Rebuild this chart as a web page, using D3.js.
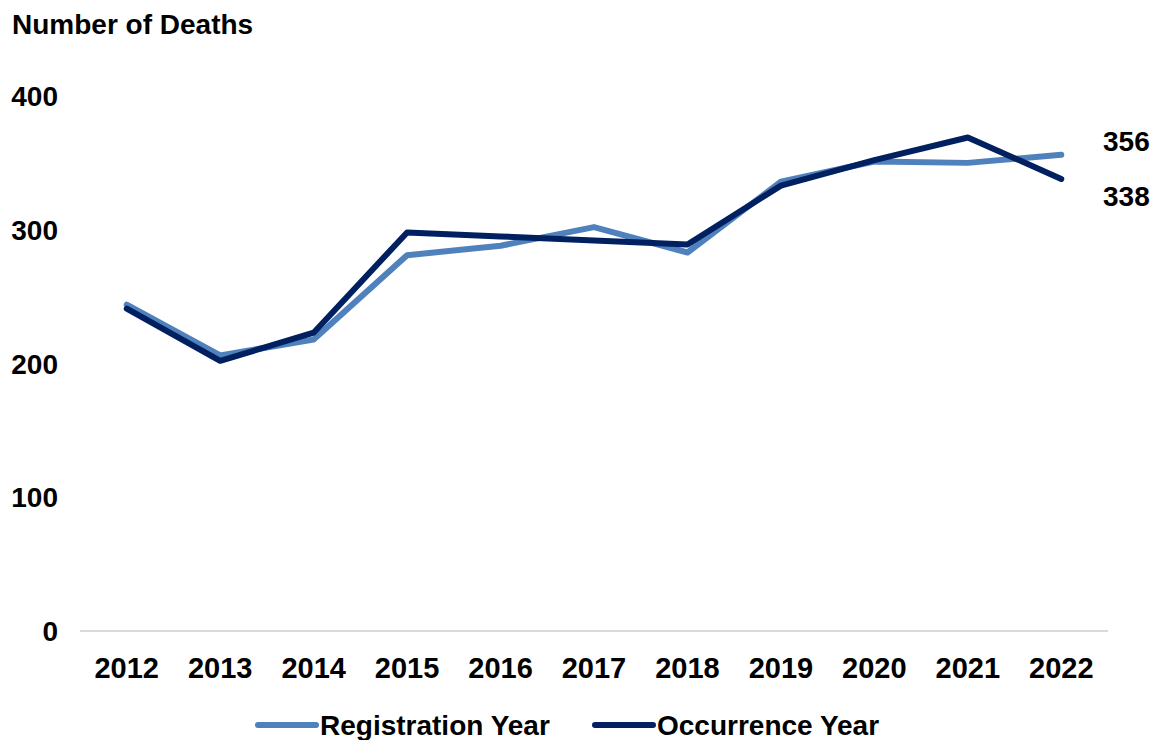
<!DOCTYPE html>
<html><head><meta charset="utf-8">
<script src="https://cdn.jsdelivr.net/npm/d3@7"></script>
<style>body{margin:0;background:#fff}svg{display:block;font-family:"Liberation Sans",Arial,sans-serif;font-weight:bold}</style>
</head><body><svg id="c" width="1157" height="740"></svg>
<script>
const years = ["2012","2013","2014","2015","2016","2017","2018","2019","2020","2021","2022"];
const registration = [244,206,218,281,288,302,283,336,351,350,356];
const occurrence = [241,202,223,298,295,292,289,333,352,369,338];
const yTicks = [0,100,200,300,400];
const seriesNames = ["Registration Year","Occurrence Year"];
const colors = ["#4F81BD","#002060"];

const svg = d3.select("#c");
const x = d3.scaleBand().domain(years).range([80,1108]);
const y = d3.scaleLinear().domain([0,400]).range([631,96]);

svg.append("line").attr("x1",80).attr("x2",1108).attr("y1",y(0)).attr("y2",y(0))
  .attr("stroke","#d9d9d9").attr("stroke-width",2);

svg.append("text").attr("x",12).attr("y",34).attr("font-size",28).text("Number of Deaths");

svg.selectAll(".yt").data(yTicks).enter().append("text")
  .attr("x",58).attr("y",d=>y(d)+10).attr("text-anchor","end").attr("font-size",28).text(d=>d);

svg.selectAll(".xt").data(years).enter().append("text")
  .attr("x",d=>x(d)+x.bandwidth()/2).attr("y",678).attr("text-anchor","middle").attr("font-size",29).text(d=>d);

const line = d3.line().x((d,i)=>x(years[i])+x.bandwidth()/2).y(d=>y(d));
[registration,occurrence].forEach((s,i)=>{
  svg.append("path").attr("d",line(s)).attr("fill","none").attr("stroke",colors[i])
    .attr("stroke-width",6).attr("stroke-linejoin","round").attr("stroke-linecap","round");
});

svg.append("text").attr("x",1103).attr("y",y(registration[10])-4).attr("font-size",28).text(registration[10]);
svg.append("text").attr("x",1103).attr("y",y(occurrence[10])+27).attr("font-size",28).text(occurrence[10]);

const leg = [{x:258},{x:595}];
seriesNames.forEach((n,i)=>{
  svg.append("line").attr("x1",leg[i].x).attr("x2",leg[i].x+58).attr("y1",725).attr("y2",725)
    .attr("stroke",colors[i]).attr("stroke-width",6).attr("stroke-linecap","round");
  svg.append("text").attr("x",leg[i].x+62).attr("y",735).attr("font-size",28).text(n);
});
</script></body></html>
